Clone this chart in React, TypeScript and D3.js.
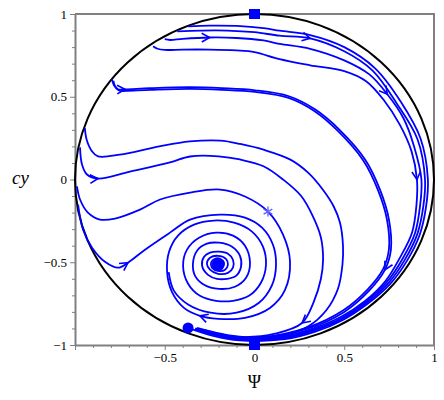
import React, { useEffect, useRef } from 'react';
import * as d3 from 'd3';

type Pt = [number, number];

// orbits that leave the upper-left rim and run round near the circle
const topA: Pt[] = [
  [-0.37, 0.925], [-0.25, 0.93], [-0.1, 0.928], [0.05, 0.915], [0.14, 0.899], [0.31, 0.873],
  [0.5, 0.8], [0.672, 0.672], [0.815, 0.47], [0.925, 0.248], [0.966, 0], [0.955, -0.17],
  [0.92, -0.335], [0.85, -0.49], [0.755, -0.632], [0.63, -0.751], [0.49, -0.85], [0.335, -0.921],
  [0.17, -0.965], [-0.085, -0.972], [-0.23, -0.945], [-0.37, -0.897]
];
const topB: Pt[] = [
  [-0.43, 0.895], [-0.3, 0.9], [-0.15, 0.9], [0, 0.89], [0.14, 0.869], [0.31, 0.853],
  [0.5, 0.775], [0.658, 0.658], [0.795, 0.455], [0.908, 0.243], [0.95, 0], [0.94, -0.166],
  [0.907, -0.33], [0.838, -0.484], [0.746, -0.626], [0.625, -0.745], [0.487, -0.844], [0.332, -0.913],
  [0.169, -0.959], [-0.084, -0.966], [-0.22, -0.94], [-0.33, -0.905]
];
const topC: Pt[] = [
  [-0.5, 0.848], [-0.47, 0.843], [-0.4, 0.85], [-0.25, 0.858], [-0.1, 0.855], [0.05, 0.84],
  [0.14, 0.82], [0.31, 0.79], [0.5, 0.72], [0.64, 0.635], [0.74, 0.515], [0.83, 0.37],
  [0.889, 0.2], [0.93, 0], [0.922, -0.162], [0.894, -0.325], [0.826, -0.477], [0.738, -0.619],
  [0.62, -0.739], [0.484, -0.838], [0.33, -0.907], [0.168, -0.953], [-0.084, -0.96], [-0.2, -0.935],
  [-0.3, -0.91]
];
const topD: Pt[] = [
  [-0.565, 0.805], [-0.54, 0.79], [-0.5, 0.783], [-0.4, 0.785], [-0.25, 0.785], [-0.1, 0.78],
  [0, 0.77], [0.14, 0.727], [0.31, 0.69], [0.5, 0.655], [0.62, 0.595], [0.72, 0.48],
  [0.81, 0.33], [0.875, 0.17], [0.905, 0], [0.902, -0.158], [0.878, -0.32], [0.812, -0.469],
  [0.73, -0.613], [0.616, -0.734], [0.48, -0.831], [0.328, -0.9], [0.167, -0.947], [-0.083, -0.955],
  [-0.19, -0.935], [-0.28, -0.91]
];
// the double line starting at about y = 0.6
const bandA: Pt[] = [
  [-0.794, 0.606], [-0.783, 0.57], [-0.76, 0.545], [-0.721, 0.545], [-0.582, 0.552], [-0.359, 0.558],
  [-0.181, 0.552], [0.003, 0.539], [0.192, 0.503], [0.337, 0.424], [0.471, 0.303], [0.616, 0.121],
  [0.699, -0.061], [0.749, -0.242], [0.76, -0.424], [0.727, -0.545], [0.64, -0.67], [0.5, -0.8],
  [0.3, -0.9], [0.03, -0.958], [-0.15, -0.944], [-0.33, -0.9]
];
const bandB: Pt[] = [
  [-0.786, 0.596], [-0.776, 0.562], [-0.752, 0.536], [-0.715, 0.536], [-0.58, 0.542], [-0.36, 0.548],
  [-0.18, 0.542], [0.003, 0.529], [0.19, 0.493], [0.333, 0.414], [0.463, 0.295], [0.606, 0.115],
  [0.688, -0.064], [0.738, -0.242], [0.749, -0.42], [0.717, -0.54], [0.632, -0.662], [0.495, -0.79],
  [0.298, -0.893], [0.03, -0.953], [-0.15, -0.94], [-0.32, -0.897]
];
// orbits from the left rim around y = 0.3 and y = 0.2
const midA: Pt[] = [
  [-0.945, 0.31], [-0.935, 0.24], [-0.905, 0.17], [-0.872, 0.14], [-0.75, 0.15], [-0.53, 0.2],
  [-0.36, 0.23], [-0.19, 0.235], [-0.08, 0.215], [0.05, 0.18], [0.2, 0.12], [0.3, 0.04],
  [0.38, -0.06], [0.44, -0.16], [0.476, -0.26], [0.493, -0.4], [0.49, -0.515], [0.465, -0.66],
  [0.4, -0.79], [0.3, -0.887], [0.15, -0.947], [0, -0.964], [-0.136, -0.952], [-0.3, -0.912]
];
const midB: Pt[] = [
  [-0.972, 0.194], [-0.961, 0.091], [-0.933, 0.03], [-0.872, 0.006], [-0.694, 0.048], [-0.471, 0.103],
  [-0.359, 0.139], [-0.2, 0.14], [-0.081, 0.121], [0.05, 0.08], [0.159, 0], [0.26, -0.1],
  [0.326, -0.224], [0.37, -0.35], [0.382, -0.485], [0.37, -0.6], [0.33, -0.74], [0.265, -0.867],
  [0.114, -0.932], [-0.053, -0.952], [-0.22, -0.935], [-0.331, -0.906]
];
// orbit from the lower-left rim that joins the spiral
const lowA: Pt[] = [
  [-0.983, -0.152], [-0.955, -0.303], [-0.905, -0.412], [-0.833, -0.497], [-0.76, -0.533], [-0.705, -0.503],
  [-0.61, -0.424], [-0.471, -0.321], [-0.359, -0.242], [-0.192, -0.212], [-0.053, -0.23], [0.042, -0.291],
  [0.103, -0.394], [0.12, -0.515], [0.097, -0.64], [0.025, -0.745], [-0.1, -0.805], [-0.245, -0.805],
  [-0.37, -0.755], [-0.45, -0.67], [-0.478, -0.56]
];
// orbit through the star, winding into the focus
const spiralA: Pt[] = [
  [-0.989, -0.042], [-0.972, -0.121], [-0.928, -0.2], [-0.861, -0.242], [-0.777, -0.236], [-0.638, -0.182],
  [-0.526, -0.121], [-0.359, -0.079], [-0.192, -0.061], [-0.053, -0.103], [0.075, -0.194], [0.159, -0.333],
  [0.198, -0.497], [0.17, -0.667], [0.086, -0.776], [-0.053, -0.836], [-0.203, -0.842], [-0.304, -0.824],
  [-0.393, -0.776], [-0.46, -0.679], [-0.487, -0.558], [-0.476, -0.436], [-0.426, -0.339], [-0.337, -0.273],
  [-0.226, -0.248], [-0.114, -0.261], [-0.014, -0.315], [0.047, -0.406], [0.064, -0.515], [0.036, -0.624],
  [-0.031, -0.703], [-0.12, -0.733], [-0.214, -0.733], [-0.304, -0.703], [-0.37, -0.63], [-0.398, -0.521],
  [-0.376, -0.424], [-0.309, -0.352], [-0.214, -0.321], [-0.12, -0.339], [-0.053, -0.4], [-0.025, -0.503],
  [-0.047, -0.594], [-0.109, -0.648], [-0.198, -0.661], [-0.281, -0.636], [-0.331, -0.582], [-0.343, -0.509],
  [-0.32, -0.43], [-0.265, -0.388], [-0.198, -0.382], [-0.125, -0.406], [-0.081, -0.461], [-0.075, -0.527],
  [-0.103, -0.582], [-0.153, -0.6], [-0.209, -0.6], [-0.259, -0.576], [-0.292, -0.521], [-0.281, -0.467],
  [-0.248, -0.442], [-0.198, -0.436], [-0.148, -0.448], [-0.12, -0.485], [-0.12, -0.533], [-0.148, -0.564],
  [-0.203, -0.57], [-0.248, -0.545], [-0.265, -0.509], [-0.248, -0.473], [-0.203, -0.461], [-0.159, -0.479],
  [-0.148, -0.515], [-0.164, -0.545], [-0.203, -0.552], [-0.237, -0.533], [-0.242, -0.503], [-0.22, -0.479],
  [-0.192, -0.479], [-0.17, -0.503], [-0.181, -0.533], [-0.209, -0.533], [-0.22, -0.509], [-0.203, -0.497],
  [-0.192, -0.515]
];

const curves: Pt[][] = [topA, topB, topC, topD, bandA, bandB, midA, midB, lowA, spiralA];

// [curve, point] where an arrow head sits
const arrowAt: [number, number][] = [
  [1, 5], [2, 3], [2, 10], [3, 14], [4, 3], [4, 15], [7, 3], [7, 17], [8, 5], [9, 17]
];

const saddles: Pt[] = [[0, 1], [0, -1]];
const focus: Pt = [-0.203, -0.515];
const endDot: Pt = [-0.37, -0.897];
const starPt: Pt = [0.075, -0.194];

const majorTicks = [-1, -0.5, 0, 0.5, 1];
const xLabels = ['', '\u22120.5', '0', '0.5', '1'];
const yLabels = ['\u22121', '\u22120.5', '0', '0.5', '1'];
const minorTicks = [-0.9, -0.8, -0.7, -0.6, -0.4, -0.3, -0.2, -0.1, 0.1, 0.2, 0.3, 0.4, 0.6, 0.7, 0.8, 0.9];

function draw(node: SVGSVGElement) {
  const svg = d3.select(node);
  svg.selectAll('*').remove();

  const x = d3.scaleLinear().domain([-1, 1]).range([75, 434]);
  const y = d3.scaleLinear().domain([-1, 1]).range([345, 14]);
  const grey = '#808080';
  const blue = '#0000ff';
  const serif = "'Times New Roman', 'Liberation Serif', serif";

  // minor ticks
  svg.append('g').attr('transform', `translate(0,${y(-1)})`)
    .call(d3.axisBottom(x).tickValues(minorTicks).tickSize(3).tickSizeOuter(0).tickFormat(() => ''))
    .call(g => g.select('.domain').remove())
    .selectAll('line').attr('stroke', grey);
  svg.append('g').attr('transform', `translate(${x(-1)},0)`)
    .call(d3.axisLeft(y).tickValues(minorTicks).tickSize(3).tickSizeOuter(0).tickFormat(() => ''))
    .call(g => g.select('.domain').remove())
    .selectAll('line').attr('stroke', grey);

  // frame on top and right
  svg.append('path')
    .attr('d', `M${x(-1)},${y(1)}H${x(1)}V${y(-1)}`)
    .attr('fill', 'none').attr('stroke', grey).attr('stroke-width', 2);

  const xAxis = svg.append('g').attr('transform', `translate(0,${y(-1)})`)
    .call(d3.axisBottom(x).tickValues(majorTicks).tickSize(5).tickSizeOuter(0)
      .tickFormat((d, i) => xLabels[i]));
  const yAxis = svg.append('g').attr('transform', `translate(${x(-1)},0)`)
    .call(d3.axisLeft(y).tickValues(majorTicks).tickSize(5).tickSizeOuter(0)
      .tickFormat((d, i) => yLabels[i]));
  [xAxis, yAxis].forEach(g => {
    g.attr('font-family', null).attr('font-size', null);
    g.select('.domain').attr('stroke', grey).attr('stroke-width', 2);
    g.selectAll('line').attr('stroke', grey);
    g.selectAll('text').attr('fill', '#000')
      .style('font-family', serif).style('font-size', '13px');
  });

  // axis titles
  svg.append('text').attr('x', 12).attr('y', 184)
    .style('font-family', serif).style('font-style', 'italic').style('font-size', '19px')
    .text('cy');
  svg.append('text').attr('x', x(0)).attr('y', 388).attr('text-anchor', 'middle')
    .style('font-family', serif).style('font-size', '18px')
    .text('\u03A8');

  // unit circle
  svg.append('ellipse')
    .attr('cx', x(0)).attr('cy', y(0))
    .attr('rx', x(1) - x(0)).attr('ry', y(-1) - y(0))
    .attr('fill', 'none').attr('stroke', '#000').attr('stroke-width', 2);

  const line = d3.line<Pt>()
    .x(d => x(d[0])).y(d => y(d[1]))
    .curve(d3.curveCatmullRom.alpha(0.5));

  svg.append('g').selectAll('path')
    .data(curves)
    .join('path')
    .attr('d', d => line(d))
    .attr('fill', 'none').attr('stroke', blue).attr('stroke-width', 1.8)
    .attr('stroke-linejoin', 'round');

  // arrow heads
  svg.append('g').selectAll('path')
    .data(arrowAt)
    .join('path')
    .attr('d', ([c, i]) => {
      const pts = curves[c];
      const a = pts[i - 1], b = pts[i], n = pts[i + 1];
      const ang = Math.atan2(y(n[1]) - y(a[1]), x(n[0]) - x(a[0]));
      const px = x(b[0]), py = y(b[1]);
      const len = 9, spread = 0.5;
      const p1 = [px - len * Math.cos(ang - spread), py - len * Math.sin(ang - spread)];
      const p2 = [px - len * Math.cos(ang + spread), py - len * Math.sin(ang + spread)];
      return `M${p1[0]},${p1[1]}L${px},${py}L${p2[0]},${p2[1]}`;
    })
    .attr('fill', 'none').attr('stroke', blue).attr('stroke-width', 1.6);

  // equilibria and marked points
  svg.append('g').selectAll('rect')
    .data(saddles)
    .join('rect')
    .attr('x', d => x(d[0]) - 5.5).attr('y', d => y(d[1]) - 5)
    .attr('width', 11).attr('height', 10)
    .attr('fill', blue);
  svg.append('circle').attr('cx', x(focus[0])).attr('cy', y(focus[1])).attr('r', 6.5).attr('fill', blue);
  svg.append('circle').attr('cx', x(endDot[0])).attr('cy', y(endDot[1])).attr('r', 5.5).attr('fill', blue);

  const sx = x(starPt[0]), sy = y(starPt[1]);
  svg.append('g').selectAll('line')
    .data([90, 30, 150])
    .join('line')
    .attr('x1', a => sx + 5 * Math.cos(a * Math.PI / 180))
    .attr('y1', a => sy - 5 * Math.sin(a * Math.PI / 180))
    .attr('x2', a => sx - 5 * Math.cos(a * Math.PI / 180))
    .attr('y2', a => sy + 5 * Math.sin(a * Math.PI / 180))
    .attr('stroke', '#6464ff').attr('stroke-width', 1.4);
}

export default function App() {
  const ref = useRef<SVGSVGElement>(null);

  useEffect(() => {
    if (ref.current) draw(ref.current);
  }, []);

  return (
    <svg ref={ref} width={444} height={400}
      style={{ position: 'absolute', left: 0, top: 0, background: '#fff' }} />
  );
}
